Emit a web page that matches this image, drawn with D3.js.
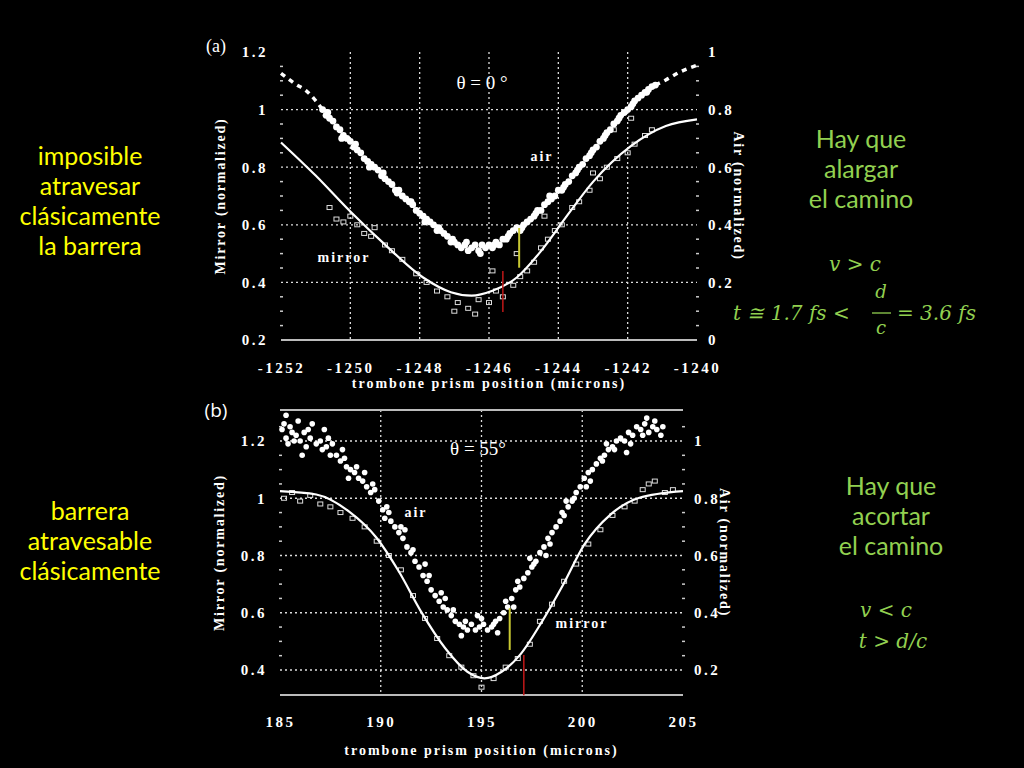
<!DOCTYPE html>
<html><head><meta charset="utf-8">
<script src="https://cdn.jsdelivr.net/npm/d3@7"></script>
<style>body{margin:0;background:#000}svg{display:block}</style></head>
<body><svg id="c" width="1024" height="768"></svg>
<script>
// ---------- DATA ----------
const ticksA_x = [-1252,-1250,-1248,-1246,-1244,-1242,-1240];
const ticksA_mirror = [0.2,0.4,0.6,0.8,1,1.2];
const ticksA_air = [0,0.2,0.4,0.6,0.8,1];
const ticksB_x = [185,190,195,200,205];
const ticksB_mirror = [0.4,0.6,0.8,1,1.2];
const ticksB_air = [0.2,0.4,0.6,0.8,1];

const fitA = [[-1252,0.886],[-1251,0.771],[-1250,0.646],[-1249,0.531],[-1247.9,0.417],[-1247.1,0.366],[-1246.5,0.354],[-1245.9,0.371],[-1245.2,0.417],[-1244.5,0.509],[-1243.8,0.623],[-1243,0.749],[-1241.9,0.874],[-1240.9,0.943],[-1240,0.966]];
const airA_dashL = [[-1252,0.926],[-1251.6,0.89],[-1251.25,0.863],[-1250.8,0.80]];
const airA_dashR = [[-1241.2,0.885],[-1240.9,0.903],[-1240.5,0.93],[-1240,0.954]];
const airA = [[-1250.8,0.80],[-1250.7,0.78],[-1250.6,0.77],[-1250.5,0.76],[-1250.4,0.74],[-1250.3,0.73],[-1250.2,0.71],[-1250.1,0.70],[-1250.0,0.69],[-1249.9,0.67],[-1249.8,0.66],[-1249.7,0.65],[-1249.6,0.63],[-1249.5,0.62],[-1249.4,0.61],[-1249.3,0.60],[-1249.2,0.59],[-1249.1,0.57],[-1249.0,0.56],[-1248.9,0.55],[-1248.8,0.54],[-1248.7,0.52],[-1248.6,0.52],[-1248.5,0.50],[-1248.4,0.49],[-1248.3,0.48],[-1248.2,0.47],[-1248.1,0.45],[-1248.0,0.44],[-1247.9,0.43],[-1247.8,0.42],[-1247.7,0.41],[-1247.6,0.40],[-1247.5,0.38],[-1247.4,0.38],[-1247.3,0.37],[-1247.2,0.36],[-1247.1,0.34],[-1247.0,0.34],[-1246.9,0.33],[-1246.8,0.32],[-1246.7,0.33],[-1246.6,0.31],[-1246.5,0.32],[-1246.4,0.33],[-1246.3,0.31],[-1246.2,0.33],[-1246.1,0.32],[-1246.0,0.33],[-1245.9,0.32],[-1245.8,0.34],[-1245.7,0.33],[-1245.6,0.35],[-1245.5,0.35],[-1245.4,0.37],[-1245.3,0.38],[-1245.2,0.39],[-1245.1,0.38],[-1245.0,0.40],[-1244.9,0.41],[-1244.8,0.42],[-1244.7,0.43],[-1244.6,0.45],[-1244.5,0.45],[-1244.4,0.47],[-1244.3,0.48],[-1244.2,0.49],[-1244.1,0.50],[-1244.0,0.52],[-1243.9,0.52],[-1243.8,0.54],[-1243.7,0.55],[-1243.6,0.57],[-1243.5,0.58],[-1243.4,0.60],[-1243.3,0.61],[-1243.2,0.63],[-1243.1,0.64],[-1243.0,0.66],[-1242.9,0.67],[-1242.8,0.69],[-1242.7,0.70],[-1242.6,0.72],[-1242.5,0.73],[-1242.4,0.75],[-1242.3,0.76],[-1242.2,0.78],[-1242.1,0.79],[-1242.0,0.80],[-1241.9,0.81],[-1241.8,0.83],[-1241.7,0.84],[-1241.6,0.85],[-1241.5,0.86],[-1241.4,0.87],[-1241.3,0.88],[-1241.2,0.885],
[-1250.65,0.79],[-1250.25,0.70],[-1249.85,0.68],[-1249.45,0.60],[-1249.05,0.58],[-1248.65,0.51],[-1248.25,0.48],[-1247.85,0.41],[-1247.45,0.39],[-1247.05,0.35],[-1246.65,0.34],[-1246.25,0.30],[-1245.85,0.33],[-1245.45,0.36],[-1245.05,0.39],[-1244.65,0.44],[-1244.25,0.50],[-1243.85,0.53],[-1243.45,0.59],[-1243.05,0.65],[-1242.65,0.71],[-1242.25,0.77],[-1241.85,0.82],[-1241.45,0.86]];
const mirA = [[-1250.6,0.66],[-1250.4,0.62],[-1250.2,0.61],[-1250.0,0.63],[-1249.8,0.60],[-1249.6,0.57],[-1249.4,0.56],[-1249.3,0.59],[-1249.0,0.53],[-1248.8,0.51],[-1248.5,0.48],[-1248.1,0.43],[-1247.8,0.40],[-1247.5,0.37],[-1247.2,0.35],[-1246.9,0.33],[-1246.6,0.31],[-1246.3,0.34],[-1246.0,0.33],[-1245.8,0.37],[-1245.6,0.35],[-1245.3,0.39],[-1245.1,0.42],[-1244.9,0.44],[-1244.7,0.47],[-1244.5,0.52],[-1244.3,0.55],[-1244.1,0.58],[-1243.9,0.60],[-1243.6,0.66],[-1243.4,0.68],[-1243.1,0.72],[-1242.8,0.76],[-1242.6,0.80],[-1242.3,0.83],[-1242.0,0.85],[-1241.8,0.88],[-1241.5,0.91],[-1241.3,0.93],[-1245.9,0.44],[-1245.2,0.50],[-1244.4,0.63],[-1243.0,0.78],[-1242.4,0.93],[-1241.9,0.97],[-1247.0,0.30],[-1246.4,0.29]];

const fitB = [[185,1.025],[186.8,1.013],[188.4,0.955],[189.8,0.861],[190.9,0.744],[192,0.604],[193.2,0.476],[194.3,0.394],[195.15,0.371],[196,0.394],[196.9,0.452],[198,0.569],[199.05,0.698],[200.1,0.838],[201.4,0.943],[202.8,1.001],[205,1.025]];
const airB = [[185.1,1.04],[185.2,1.06],[185.3,1.01],[185.4,0.99],[185.5,1.05],[185.6,1.03],[185.8,1.02],[185.9,1.07],[186.0,1.00],[186.2,1.03],[186.3,0.98],[186.5,1.01],[186.6,1.06],[186.8,0.99],[187.0,1.00],[187.1,0.97],[187.3,0.98],[187.5,0.95],[187.6,0.99],[187.8,0.95],[188.0,0.93],[188.2,0.94],[188.3,0.91],[188.5,0.90],[188.7,0.89],[188.9,0.87],[189.1,0.86],[189.3,0.84],[189.5,0.82],[189.7,0.83],[189.9,0.79],[190.1,0.76],[190.3,0.77],[190.5,0.72],[190.7,0.70],[190.9,0.68],[191.1,0.66],[191.3,0.63],[191.5,0.61],[191.7,0.58],[191.9,0.56],[192.1,0.53],[192.3,0.51],[192.5,0.48],[192.7,0.46],[192.9,0.44],[193.1,0.42],[193.3,0.41],[193.5,0.39],[193.7,0.37],[193.9,0.36],[194.1,0.35],[194.3,0.34],[194.5,0.36],[194.7,0.34],[194.9,0.35],[195.1,0.36],[195.3,0.34],[195.5,0.35],[195.7,0.37],[195.9,0.38],[196.1,0.40],[196.3,0.42],[196.5,0.45],[196.7,0.48],[196.9,0.49],[197.1,0.52],[197.3,0.54],[197.5,0.56],[197.7,0.58],[197.9,0.61],[198.1,0.63],[198.3,0.66],[198.5,0.68],[198.7,0.70],[198.9,0.72],[199.1,0.74],[199.3,0.77],[199.5,0.79],[199.7,0.82],[199.9,0.84],[200.1,0.87],[200.3,0.89],[200.5,0.90],[200.7,0.92],[200.9,0.94],[201.1,0.95],[201.3,0.97],[201.5,0.98],[201.7,1.00],[201.9,1.01],[202.1,1.00],[202.3,1.03],[202.5,1.02],[202.7,1.05],[202.9,1.04],[203.1,1.06],[203.3,1.03],[203.5,1.05],[203.7,1.04],[203.9,1.02],
[185.3,1.09],[186.1,0.95],[187.2,1.04],[188.4,0.87],[189.2,0.89],[190.2,0.73],[191.2,0.69],[192.2,0.57],[193.2,0.45],[194.0,0.32],[194.8,0.39],[195.8,0.33],[196.6,0.42],[197.4,0.59],[198.2,0.60],[199.2,0.79],[200.2,0.84],[201.2,0.99],[202.2,0.96],[203.2,1.08],[204.0,1.05],
[185.7,1.00],[186.4,1.04],[187.4,1.01],[188.1,0.97],[188.8,0.91],[189.6,0.85],[190.4,0.75],[191.0,0.70],[191.6,0.62],[192.4,0.53],[193.0,0.47],[193.6,0.41],[194.2,0.37],[195.0,0.38],[195.6,0.36],[196.2,0.44],[196.8,0.51],[197.6,0.57],[198.4,0.64],[199.0,0.75],[199.6,0.80],[200.4,0.86],[201.0,0.93],[201.6,0.97],[202.4,0.99],[203.0,1.02],[203.6,1.07]];
const mirB = [[185.2,1.00],[185.6,1.02],[186.0,0.99],[186.5,1.01],[187.0,0.98],[187.5,0.97],[188.0,0.95],[188.6,0.93],[189.2,0.90],[189.8,0.85],[190.4,0.80],[191.0,0.75],[191.6,0.66],[192.2,0.58],[192.8,0.51],[193.4,0.45],[194.0,0.41],[194.6,0.38],[195.0,0.34],[195.6,0.37],[196.2,0.41],[196.8,0.44],[197.4,0.49],[197.9,0.57],[198.5,0.63],[199.1,0.71],[199.7,0.77],[200.3,0.84],[200.9,0.89],[201.5,0.94],[202.1,0.97],[202.6,0.99],[203.0,1.03],[203.3,1.05],[203.6,1.06],[204.1,1.02],[204.5,1.03]];

const markersA = {yellow:[-1245.13,0.589,0.451], red:[-1245.6,0.44,0.297]};
const markersB = {yellow:[196.4,0.616,0.47], red:[197.1,0.452,0.312]};

const leftTextA = ["imposible","atravesar","clásicamente","la barrera"];
const leftTextB = ["barrera","atravesable","clásicamente"];
const rightTextA = ["Hay que","alargar","el camino"];
const rightTextB = ["Hay que","acortar","el camino"];

// ---------- DRAW ----------
const svg = d3.select("#c");
svg.append("rect").attr("width",1024).attr("height",768).attr("fill","#000");
const SERIF = "'Liberation Serif','DejaVu Serif',serif";

function panel(o){
  const g = svg.append("g");
  const x = d3.scaleLinear().domain(o.xd).range(o.xr);
  const y = d3.scaleLinear().domain(o.yd).range(o.yr);
  const ya = d3.scaleLinear().domain(o.yad).range(o.yr);
  g.selectAll(".hg").data(o.hgrid).join("line")
    .attr("x1",o.xr[0]).attr("x2",o.xr[1]).attr("y1",d=>y(d)).attr("y2",d=>y(d))
    .attr("stroke","#ddd").attr("stroke-width",1.3).attr("stroke-dasharray","2,3");
  g.selectAll(".vg").data(o.vgrid).join("line")
    .attr("x1",d=>x(d)).attr("x2",d=>x(d)).attr("y1",o.top).attr("y2",o.bottom)
    .attr("stroke","#ddd").attr("stroke-width",1.3).attr("stroke-dasharray","2,3");
  g.append("line").attr("x1",o.xr[0]).attr("x2",o.xr[1]).attr("y1",o.bottom).attr("y2",o.bottom).attr("stroke","#bbb").attr("stroke-width",2);
  if(o.topLine) g.append("line").attr("x1",o.xr[0]).attr("x2",o.xr[1]).attr("y1",o.top).attr("y2",o.top).attr("stroke","#bbb").attr("stroke-width",2);
  [o.xr[0], o.xr[1]].forEach(ex=>{
    g.selectAll(null).data(o.minor).join("line").attr("x1",ex-1).attr("x2",ex+2).attr("y1",d=>y(d)).attr("y2",d=>y(d)).attr("stroke","#ccc").attr("stroke-width",1.5);
  });
  const ax = g.append("g").attr("transform",`translate(0,${o.xlabY})`)
    .call(d3.axisBottom(x).tickValues(o.xt).tickSize(0).tickFormat(d=>String(d)));
  const ay = g.append("g").attr("transform",`translate(${o.xr[0]-10},0)`)
    .call(d3.axisLeft(y).tickValues(o.yt).tickSize(0).tickFormat(d=>String(d)));
  const ar = g.append("g").attr("transform",`translate(${o.xr[1]+8},0)`)
    .call(d3.axisRight(ya).tickValues(o.yat).tickSize(0).tickFormat(d=>String(d)));
  [ax,ay,ar].forEach(a=>{a.select(".domain").remove();
    a.selectAll("text").attr("fill","#fff").attr("font-family",SERIF).attr("font-weight","bold").attr("font-size",15).attr("letter-spacing","2.5px");});
  g.append("text").attr("x",(o.xr[0]+o.xr[1])/2).attr("y",o.xtitleY).attr("text-anchor","middle")
    .attr("fill","#fff").attr("font-family",SERIF).attr("font-weight","bold").attr("font-size",14).attr("letter-spacing","2px")
    .text("trombone prism position (microns)");
  const cy=(o.top+o.bottom)/2;
  g.append("text").attr("transform",`translate(${o.xr[0]-56},${cy}) rotate(-90)`).attr("text-anchor","middle")
    .attr("fill","#fff").attr("font-family",SERIF).attr("font-weight","bold").attr("font-size",14).attr("letter-spacing","1.8px").text("Mirror (normalized)");
  g.append("text").attr("transform",`translate(${o.xr[1]+37},${cy}) rotate(90)`).attr("text-anchor","middle")
    .attr("fill","#fff").attr("font-family",SERIF).attr("font-weight","bold").attr("font-size",14).attr("letter-spacing","1.8px").text("Air (normalized)");
  g.selectAll(".sq").data(o.mir).join("rect")
    .attr("x",d=>x(d[0])-2.5).attr("y",d=>y(d[1])-2).attr("width",5).attr("height",4)
    .attr("fill","none").attr("stroke","#ddd").attr("stroke-width",1);
  g.append("path").datum(o.fit).attr("fill","none").attr("stroke","#fff").attr("stroke-width",2.2)
    .attr("d",d3.line().x(d=>x(d[0])).y(d=>y(d[1])).curve(d3.curveMonotoneX));
  (o.dash||[]).forEach(ds=>g.append("path").datum(ds).attr("fill","none").attr("stroke","#fff").attr("stroke-width",3.5).attr("stroke-dasharray","5,5")
    .attr("d",d3.line().x(d=>x(d[0])).y(d=>ya(d[1])).curve(d3.curveMonotoneX)));
  g.selectAll(".ad").data(o.air).join("circle").attr("cx",d=>x(d[0])).attr("cy",d=>ya(d[1])).attr("r",o.r).attr("fill","#fff");
  g.append("line").attr("x1",x(o.mk.yellow[0])).attr("x2",x(o.mk.yellow[0])).attr("y1",y(o.mk.yellow[1])).attr("y2",y(o.mk.yellow[2])).attr("stroke","#c8c832").attr("stroke-width",2);
  g.append("line").attr("x1",x(o.mk.red[0])).attr("x2",x(o.mk.red[0])).attr("y1",y(o.mk.red[1])).attr("y2",y(o.mk.red[2])).attr("stroke","#c01818").attr("stroke-width",1.5);
  o.labels.forEach(l=>g.append("text").attr("x",l[1]).attr("y",l[2]).attr("text-anchor","middle").attr("fill","#fff")
    .attr("font-family",l[4]||SERIF).attr("font-weight",l[5]||"bold").attr("font-size",l[3]).attr("letter-spacing",l[5]?"0":"2px").text(l[0]));
}

panel({xd:[-1252,-1240],xr:[281,697],yd:[0.2,1.2],yr:[340,52],yad:[0,1],top:52,bottom:340,topLine:false,
  hgrid:[0.4,0.6,0.8,1],vgrid:[-1250,-1248,-1246,-1244,-1242],minor:[0.3,0.5,0.7,0.9,1.1,0.25,0.35,0.45,0.55,0.65,0.75,0.85,0.95,1.05,1.15],
  xt:ticksA_x,yt:ticksA_mirror,yat:ticksA_air,xlabY:359,xtitleY:388,
  fit:fitA,air:airA,mir:mirA,dash:[airA_dashL,airA_dashR],r:3.4,mk:markersA,
  labels:[["θ = 0 °",482,89,19,"'Liberation Serif',serif","normal"],["air",542,161,14],["mirror",344,262,14],["(a)",216,52,18,"'Liberation Serif',serif","normal"]]});

panel({xd:[185,205],xr:[280,683],yd:[0.4,1.2],yr:[670,441],yad:[0.2,1],top:410,bottom:695,topLine:true,
  hgrid:[0.4,0.6,0.8,1,1.2],vgrid:[190,195,200],minor:[0.5,0.7,0.9,1.1,0.45,0.55,0.65,0.75,0.85,0.95,1.05,1.15,1.25],
  xt:ticksB_x,yt:ticksB_mirror,yat:ticksB_air,xlabY:713,xtitleY:755,
  fit:fitB,air:airB,mir:mirB,dash:[],r:2.8,mk:markersB,
  labels:[["θ = 55°",478,455,19,"'Liberation Serif',serif","normal"],["air",416,517,14],["mirror",582,628,14],["(b)",216,417,19,"'Open Sans',sans-serif","normal"]]});

const SANS = "'Lato','Open Sans',sans-serif";
function block(lines,cx,y0,col){
  svg.selectAll(null).data(lines).join("text").attr("x",cx).attr("y",(d,i)=>y0+i*30).attr("text-anchor","middle")
    .attr("fill",col).attr("font-family",SANS).attr("font-size",25).text(d=>d);
}
const YEL="#ffff00", GRN="#92d050";
block(leftTextA,90,165,YEL);
block(leftTextB,90,520,YEL);
block(rightTextA,861,148,GRN);
block(rightTextB,891,495,GRN);
const M="'DejaVu Serif',serif";
function mt(x,y,txt,size,anchor){svg.append("text").attr("x",x).attr("y",y).attr("text-anchor",anchor||"start").attr("fill",GRN).attr("font-family",M).attr("font-size",size||20).attr("font-style","italic").text(txt);}
mt(855,271,"v > c",20,"middle");
mt(733,320,"t ≅ 1.7 fs <",20);
mt(881,298,"d",18,"middle");
svg.append("line").attr("x1",872).attr("x2",891).attr("y1",313).attr("y2",313).attr("stroke",GRN).attr("stroke-width",1.3);
mt(881,334,"c",18,"middle");
mt(897,320,"= 3.6 fs",20);
mt(886,617,"v < c",20,"middle");
mt(893,648,"t > d/c",20,"middle");
</script></body></html>
